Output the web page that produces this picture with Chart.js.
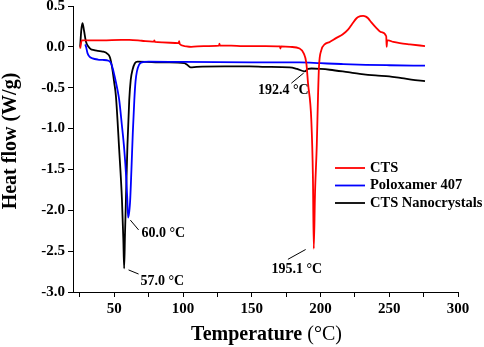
<!DOCTYPE html>
<html>
<head>
<meta charset="utf-8">
<script src="https://cdn.jsdelivr.net/npm/chart.js@4.4.1/dist/chart.umd.min.js"></script>
<style>
  html, body { margin: 0; padding: 0; background: #fff; }
  #wrap { width: 484px; height: 347px; }
</style>
</head>
<body>
<div id="wrap"><canvas id="dsc" width="484" height="347"></canvas></div>
<script>
// series labels
const seriesNames = ["CTS", "Poloxamer 407", "CTS Nanocrystals"];

// CTS (red)
const ctsTemp = [25.2, 25.8, 26.4, 30, 41.5, 55, 61, 70, 77.7, 78.8, 79.2, 79.6, 85, 96.8, 97.2, 97.6, 101, 105.9, 115, 126.2, 126.5, 126.8, 135, 143.3, 160, 170.5, 170.8, 171.2, 178, 184.8, 187.8, 189.7, 190.9, 193.3, 194.5, 195.1, 196, 197.3, 198.2, 198.9, 200.6, 203, 206.7, 211.6, 216, 220, 223, 226.2, 229, 231, 233, 234.6, 237, 240.7, 244, 247.8, 248.1, 248.5, 249.2, 253, 257.7, 265, 276];
const ctsFlow = [-0.02, 0.04, 0.08, 0.08, 0.08, 0.085, 0.085, 0.075, 0.065, 0.065, 0.08, 0.06, 0.055, 0.045, 0.07, 0.035, 0.01, 0.0, 0.01, 0.015, 0.04, 0.015, 0.015, 0.01, 0.01, 0.005, -0.02, 0.005, 0.0, -0.02, -0.08, -0.2, -0.44, -0.89, -1.6, -2.47, -1.8, -1.2, -0.6, -0.24, -0.04, 0.03, 0.06, 0.11, 0.15, 0.21, 0.28, 0.35, 0.375, 0.38, 0.37, 0.35, 0.3, 0.23, 0.18, 0.13, 0.0, 0.08, 0.08, 0.06, 0.045, 0.03, 0.01];

// Poloxamer 407 (blue)
const poloTemp = [28.9, 29.5, 30.6, 32, 34.2, 38, 41.5, 45.9, 47.6, 49, 50, 52.4, 53.6, 55.5, 57.3, 58.7, 59.5, 60.1, 61.5, 62.5, 63.5, 64.6, 65.5, 66.5, 68, 70, 75, 100, 150, 185, 200, 215, 233, 250, 276];
const poloFlow = [0.03, 0.0, -0.08, -0.12, -0.14, -0.155, -0.16, -0.17, -0.2, -0.27, -0.34, -0.53, -0.65, -0.95, -1.26, -1.6, -1.87, -2.09, -1.9, -1.5, -1.05, -0.65, -0.42, -0.3, -0.22, -0.19, -0.18, -0.185, -0.19, -0.19, -0.2, -0.21, -0.22, -0.225, -0.23];

// CTS Nanocrystals (black)
const nanoTemp = [25.2, 26.0, 26.9, 28.0, 29.4, 31.3, 33, 35.4, 38, 41.5, 45.1, 46.9, 48.3, 50, 51.2, 53.6, 55.6, 56.6, 57.2, 57.8, 58.5, 59.6, 60.9, 62, 63.3, 65, 67, 80, 90, 101, 103, 105.5, 110, 130, 148.4, 160, 177.6, 183, 188.5, 191, 193.4, 200, 206.7, 220, 228.5, 240, 250, 258, 266, 276];
const nanoFlow = [0.0, 0.2, 0.29, 0.2, 0.065, 0.0, -0.03, -0.04, -0.05, -0.057, -0.085, -0.13, -0.24, -0.44, -0.6, -1.26, -1.87, -2.35, -2.71, -2.3, -1.87, -1.2, -0.65, -0.4, -0.28, -0.2, -0.18, -0.19, -0.19, -0.2, -0.22, -0.25, -0.245, -0.24, -0.24, -0.245, -0.25, -0.27, -0.3, -0.27, -0.265, -0.27, -0.28, -0.31, -0.33, -0.35, -0.36, -0.38, -0.4, -0.42];

// tick values
const xTickVals = [25, 50, 75, 100, 125, 150, 175, 200, 225, 250, 275, 300];
const yTickVals = [-3.0, -2.75, -2.5, -2.25, -2.0, -1.75, -1.5, -1.25, -1.0, -0.75, -0.5, -0.25, 0.0, 0.25, 0.5];

// peak labels: text, leader line from (t1,v1) to (t2,v2) in data units
const noteText = ["192.4 °C", "60.0 °C", "57.0 °C", "195.1 °C"];
const noteFrom = [[187.8, -0.32], [61.7, -2.12], [60.4, -2.73], [189.2, -2.48]];
const noteTo   = [[178.8, -0.445], [67.7, -2.24], [67.7, -2.78], [176.3, -2.6]];

const toPts = (xs, ys) => xs.map((t, i) => ({ x: t, y: ys[i] }));
const colors = ["#ff0000", "#0000ff", "#000000"];
const serif = "'Liberation Serif', 'Times New Roman', serif";

const extras = {
  id: "extras",
  afterDraw(chart) {
    const { ctx, scales: { x, y } } = chart;
    ctx.save();
    // leader lines + labels
    ctx.strokeStyle = "#000";
    ctx.lineWidth = 1;
    ctx.fillStyle = "#000";
    ctx.font = "bold 14px " + serif;
    ctx.textBaseline = "middle";
    ctx.textAlign = "left";
    noteText.forEach((txt, i) => {
      const ax = x.getPixelForValue(noteFrom[i][0]), ay = y.getPixelForValue(noteFrom[i][1]);
      const bx = x.getPixelForValue(noteTo[i][0]), by = y.getPixelForValue(noteTo[i][1]);
      ctx.beginPath();
      ctx.moveTo(ax, ay);
      ctx.lineTo(bx, by);
      ctx.stroke();
    });
    const textPos = [[258, 90], [141.5, 233.5], [140.5, 281], [271.5, 269.5]];
    noteText.forEach((txt, i) => ctx.fillText(txt, textPos[i][0], textPos[i][1]));

    // legend
    ctx.font = "bold 14.5px " + serif;
    seriesNames.forEach((name, i) => {
      const ly = 168 + i * 17.5;
      ctx.strokeStyle = colors[i];
      ctx.lineWidth = 1.8;
      ctx.beginPath();
      ctx.moveTo(335, ly);
      ctx.lineTo(365, ly);
      ctx.stroke();
      ctx.fillStyle = "#000";
      ctx.fillText(name, 370, ly);
    });

    // axis titles
    ctx.fillStyle = "#000";
    ctx.font = "bold 20px " + serif;
    const t1 = "Temperature ";
    ctx.font = "bold 20px " + serif;
    const w1 = ctx.measureText(t1).width;
    ctx.font = "20px " + serif;
    const w2 = ctx.measureText("(°C)").width;
    const sx = 266.5 - (w1 + w2) / 2;
    ctx.textAlign = "left";
    ctx.font = "bold 20px " + serif;
    ctx.fillText(t1, sx, 335);
    ctx.font = "20px " + serif;
    ctx.fillText("(°C)", sx + w1, 335);

    ctx.translate(11, 141);
    ctx.rotate(-Math.PI / 2);
    ctx.textAlign = "center";
    ctx.font = "bold 20px " + serif;
    ctx.fillText("Heat flow (W/g)", 0, 0);
    ctx.restore();
  }
};

new Chart(document.getElementById("dsc"), {
  type: "scatter",
  data: {
    datasets: [
      { label: seriesNames[0], data: toPts(ctsTemp, ctsFlow), borderColor: colors[0] },
      { label: seriesNames[1], data: toPts(poloTemp, poloFlow), borderColor: colors[1] },
      { label: seriesNames[2], data: toPts(nanoTemp, nanoFlow), borderColor: colors[2] }
    ].map(d => ({ ...d, showLine: true, pointRadius: 0, borderWidth: 1.8, cubicInterpolationMode: "monotone", fill: false }))
  },
  options: {
    responsive: false,
    animation: false,
    layout: { padding: { top: 6, right: 26, left: 0, bottom: 0 } },
    plugins: { legend: { display: false }, tooltip: { enabled: false } },
    scales: {
      x: {
        type: "linear",
        min: 20,
        max: 300,
        afterBuildTicks: s => { s.ticks = xTickVals.map(v => ({ value: v })); },
        afterFit: s => { s.height = 55; s.paddingLeft = 0; s.paddingRight = 0; },
        grid: { drawOnChartArea: false, tickLength: 5, color: "#000" },
        border: { color: "#000", width: 1 },
        ticks: {
          color: "#000",
          padding: 3,
          maxRotation: 0,
          font: { family: serif, size: 15, weight: "bold" },
          callback: v => (v % 50 === 0 ? String(v) : "")
        }
      },
      y: {
        min: -3.0,
        max: 0.5,
        afterBuildTicks: s => { s.ticks = yTickVals.map(v => ({ value: v })); },
        afterFit: s => { s.width = 73; s.paddingTop = 0; s.paddingBottom = 0; },
        grid: { drawOnChartArea: false, tickLength: 5, color: "#000" },
        border: { color: "#000", width: 1 },
        ticks: {
          color: "#000",
          padding: 3,
          font: { family: serif, size: 15, weight: "bold" },
          callback: v => (Math.abs(v * 2 - Math.round(v * 2)) < 1e-6 ? v.toFixed(1) : "")
        }
      }
    }
  },
  plugins: [extras]
});
</script>
</body>
</html>
